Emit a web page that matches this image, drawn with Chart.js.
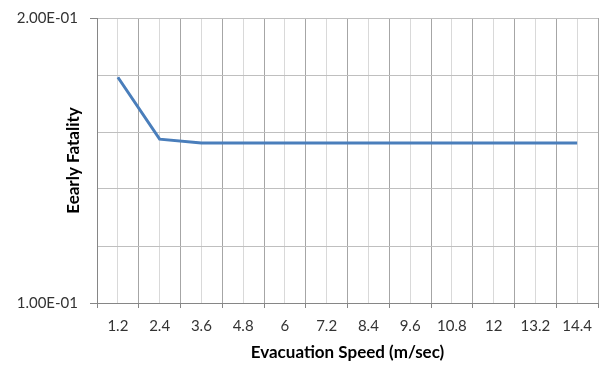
<!DOCTYPE html>
<html><head><meta charset="utf-8">
<script src="https://cdn.jsdelivr.net/npm/chart.js@4/dist/chart.umd.min.js"></script>
<style>html,body{margin:0;padding:0;background:#fff}#wrap{width:599px;height:365px}</style>
</head><body><div id="wrap"><canvas id="c" width="599" height="365"></canvas></div>
<script>
const categories = ['1.2','2.4','3.6','4.8','6','7.2','8.4','9.6','10.8','12','13.2','14.4'];
const fatality = [0.1792, 0.1575, 0.1561, 0.1561, 0.1561, 0.1561, 0.1561, 0.1561, 0.1561, 0.1561, 0.1561, 0.1561];
const yTickLabels = ['1.00E-01', '2.00E-01'];
const yMin = 0.1, yMax = 0.2, yStep = 0.02;
const xTitle = 'Evacuation Speed (m/sec)';
const yTitle = 'Eearly Fatality';

const FONT = 'Lato';
new Chart(document.getElementById('c'), {
  type: 'line',
  data: { labels: categories, datasets: [{ data: fatality, borderColor: '#4A7EBB', borderWidth: 3, pointRadius: 0, tension: 0, fill: false }] },
  options: {
    responsive: false, animation: false, devicePixelRatio: 1,
    layout: { padding: { top: 18, right: 1, left: 0, bottom: 0 } },
    plugins: { legend: { display: false }, tooltip: { enabled: false } },
    scales: {
      x: {
        type: 'category', position: 'bottom', offset: true,
        grid: { offset: true, color: '#A6A6A6', tickColor: '#868686', tickLength: 5 },
        border: { color: '#868686' },
        ticks: { color: '#333', font: { family: FONT, size: 15 }, padding: 9, maxRotation: 0, autoSkip: false },
        title: { display: true, text: xTitle, color: '#000', font: { family: FONT, size: 17, weight: 'bold' }, padding: { top: 0, bottom: 2 } },
        afterFit(s) { s.height = 62; s.paddingLeft = 0; s.paddingRight = 0; }
      },
      x2: {
        type: 'category', position: 'top', offset: true, labels: categories,
        grid: { offset: false, color: '#D9D9D9', drawTicks: false },
        border: { display: false }, ticks: { display: false }
      },
      y: {
        type: 'linear', min: yMin, max: yMax,
        ticks: {
          stepSize: yStep, color: '#333', font: { family: FONT, size: 15 }, padding: 12,
          callback: (v) => Math.abs(v - yMin) < 1e-9 ? yTickLabels[0] : (Math.abs(v - yMax) < 1e-9 ? yTickLabels[1] : '')
        },
        grid: { color: '#BFBFBF', tickLength: 7, tickColor: (ctx) => (ctx.tick && ctx.tick.label) ? '#868686' : 'rgba(0,0,0,0)' },
        border: { color: '#868686' },
        title: { display: true, text: yTitle, color: '#000', font: { family: FONT, size: 17, weight: 'bold' }, padding: { top: 63, bottom: 0 } },
        afterFit(s) { s.width = 97; s.paddingTop = 0; s.paddingBottom = 0; }
      }
    }
  }
});
</script></body></html>
